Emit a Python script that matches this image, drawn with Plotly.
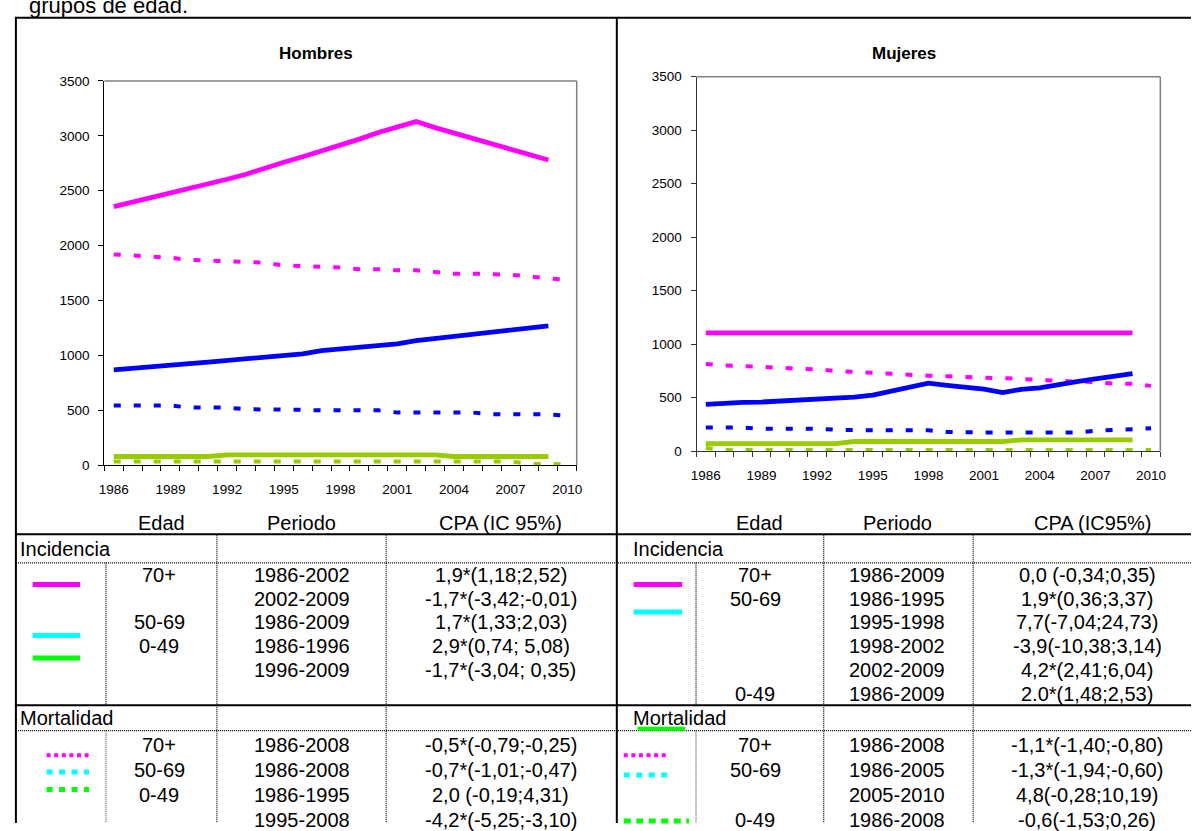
import plotly.graph_objects as go

W, H = 1197, 831

# ---------------- data ----------------
years_inc = [1986, 1987, 1988, 1989, 1990, 1991, 1992, 1993, 1994, 1995, 1996, 1997,
             1998, 1999, 2000, 2001, 2002, 2003, 2004, 2005, 2006, 2007, 2008, 2009]
years_mort = [1986, 1987, 1988, 1989, 1990, 1991, 1992, 1993, 1994, 1995, 1996, 1997,
              1998, 1999, 2000, 2001, 2002, 2003, 2004, 2005, 2006, 2007, 2008, 2009, 2010]
x_ticks = [1986, 1989, 1992, 1995, 1998, 2001, 2004, 2007, 2010]

# Hombres
h_inc_70 = [2355, 2395, 2435, 2480, 2520, 2560, 2605, 2650, 2710, 2760, 2810, 2860,
            2910, 2970, 3030, 3075, 3130, 3075, 3025, 2970, 2925, 2880, 2830, 2780]
h_mort_70 = [1920, 1910, 1895, 1890, 1870, 1865, 1860, 1850, 1845, 1820, 1815, 1810,
             1800, 1785, 1785, 1775, 1775, 1760, 1745, 1745, 1740, 1735, 1720, 1700, 1690]
h_inc_50 = [868, 880, 895, 910, 925, 940, 955, 970, 985, 1000, 1015, 1045,
            1060, 1075, 1090, 1105, 1135, 1155, 1170, 1185, 1215, 1230, 1255, 1270]
h_mort_50 = [545, 545, 545, 545, 525, 525, 525, 510, 510, 510, 505, 500,
             500, 500, 500, 480, 480, 480, 480, 480, 465, 465, 465, 465, 450]
h_inc_0 = [80, 80, 80, 80, 80, 80, 95, 95, 95, 95, 95, 95,
           95, 95, 95, 95, 95, 95, 80, 80, 80, 80, 80, 80]
h_mort_0 = [35, 35, 35, 35, 35, 35, 35, 35, 35, 35, 35, 35,
            35, 35, 35, 35, 35, 35, 35, 35, 35, 35, 12, 10, 10]

# Mujeres
m_inc_70 = [1105, 1105, 1105, 1105, 1105, 1105, 1105, 1105, 1105, 1105, 1105, 1105,
            1105, 1105, 1105, 1105, 1105, 1105, 1105, 1105, 1105, 1105, 1105, 1105]
m_mort_70 = [815, 800, 795, 790, 780, 770, 765, 750, 740, 735, 725, 715,
             705, 700, 695, 690, 680, 675, 665, 655, 650, 645, 630, 630, 610]
m_inc_50 = [438, 441, 455, 459, 468, 474, 489, 500, 505, 523, 559, 600,
            635, 615, 595, 580, 547, 578, 592, 625, 650, 675, 700, 724]
m_mort_50 = [220, 220, 220, 210, 210, 210, 210, 200, 195, 195, 195, 195,
             195, 180, 175, 175, 175, 175, 175, 175, 175, 190, 195, 205, 215]
m_inc_0 = [70, 70, 70, 70, 70, 70, 70, 70, 90, 90, 90, 90,
           90, 90, 90, 90, 90, 105, 105, 105, 105, 105, 105, 105]
m_mort_0 = [30, 10, 10, 10, 10, 10, 10, 10, 10, 10, 10, 10,
            10, 10, 10, 10, 10, 10, 10, 10, 10, 10, 10, 10, 10]

# table text
hdr_left = ["Edad", "Periodo", "CPA (IC 95%)"]
hdr_right = ["Edad", "Periodo", "CPA (IC95%)"]
left_inc_rows = [("70+", "1986-2002", "1,9*(1,18;2,52)"),
                 ("", "2002-2009", "-1,7*(-3,42;-0,01)"),
                 ("50-69", "1986-2009", "1,7*(1,33;2,03)"),
                 ("0-49", "1986-1996", "2,9*(0,74; 5,08)"),
                 ("", "1996-2009", "-1,7*(-3,04; 0,35)")]
left_mort_rows = [("70+", "1986-2008", "-0,5*(-0,79;-0,25)"),
                  ("50-69", "1986-2008", "-0,7*(-1,01;-0,47)"),
                  ("0-49", "1986-1995", "2,0 (-0,19;4,31)"),
                  ("", "1995-2008", "-4,2*(-5,25;-3,10)")]
right_inc_rows = [("70+", "1986-2009", "0,0 (-0,34;0,35)"),
                  ("50-69", "1986-1995", "1,9*(0,36;3,37)"),
                  ("", "1995-1998", "7,7(-7,04;24,73)"),
                  ("", "1998-2002", "-3,9(-10,38;3,14)"),
                  ("", "2002-2009", "4,2*(2,41;6,04)"),
                  ("0-49", "1986-2009", "2.0*(1,48;2,53)")]
right_mort_rows = [("70+", "1986-2008", "-1,1*(-1,40;-0,80)"),
                   ("50-69", "1986-2005", "-1,3*(-1,94;-0,60)"),
                   ("", "2005-2010", "4,8(-0,28;10,19)"),
                   ("0-49", "1986-2008", "-0,6(-1,53;0,26)")]

MAG, BLUE, GREEN = "#FF00FF", "#0000FF", "#99CC00"
FONT = "Arial, Liberation Sans, sans-serif"
TFS = 20   # table font size


def px(x):
    return x / W


def py(y):
    return 1 - y / H


fig = go.Figure()

series = [
    ("x", "y", years_inc, h_inc_70, MAG, "solid"),
    ("x", "y", years_mort, h_mort_70, MAG, "dot"),
    ("x", "y", years_inc, h_inc_50, BLUE, "solid"),
    ("x", "y", years_mort, h_mort_50, BLUE, "dot"),
    ("x", "y", years_inc, h_inc_0, GREEN, "solid"),
    ("x", "y", years_mort, h_mort_0, GREEN, "dot"),
    ("x2", "y2", years_inc, m_inc_70, MAG, "solid"),
    ("x2", "y2", years_mort, m_mort_70, MAG, "dot"),
    ("x2", "y2", years_inc, m_inc_50, BLUE, "solid"),
    ("x2", "y2", years_mort, m_mort_50, BLUE, "dot"),
    ("x2", "y2", years_inc, m_inc_0, GREEN, "solid"),
    ("x2", "y2", years_mort, m_mort_0, GREEN, "dot"),
]
for xa, ya, xs, ys, col, kind in series:
    if kind == "solid":
        line = dict(color=col, width=4.8)
    else:
        line = dict(color=col, width=4, dash="7px,13px")
    fig.add_trace(go.Scatter(x=xs, y=ys, mode="lines", line=line,
                             xaxis=xa, yaxis=ya, hoverinfo="skip"))

minor_vals = [v + 0.5 for v in range(1985, 2011)]


def xaxis_cfg(dom, anchor, lc):
    return dict(domain=dom, anchor=anchor, range=[1985.5, 2010.5],
                tickvals=x_ticks, ticktext=[str(v) for v in x_ticks],
                ticks="", showgrid=False, zeroline=False,
                showline=True, linecolor=lc, linewidth=1,
                tickfont=dict(family=FONT, size=13.5, color="black"),
                ticklabelstandoff=12,
                minor=dict(tickvals=minor_vals, ticks="outside", ticklen=5,
                           tickcolor=lc, tickwidth=1, showgrid=False))


def yaxis_cfg(dom, anchor, lc):
    return dict(domain=dom, anchor=anchor, range=[0, 3500], dtick=500,
                tick0=0, ticks="outside", ticklen=5, tickcolor=lc,
                showgrid=False, zeroline=False, showline=True,
                linecolor=lc, linewidth=1,
                tickfont=dict(family=FONT, size=13.5, color="black"),
                ticklabelstandoff=6)


L_dom_x = [px(99.3), px(576.5)]
L_dom_y = [py(466.7), py(75.3)]
R_dom_x = [px(697.5), px(1166)]
R_dom_y = [py(452.3), py(71)]

shapes = []
# plot frame (top & right in grey)
for xr, yr in (("x domain", "y domain"), ("x2 domain", "y2 domain")):
    shapes.append(dict(type="line", xref=xr, yref=yr, x0=0, x1=1, y0=1, y1=1,
                       line=dict(color="#808080", width=1.5)))
    shapes.append(dict(type="line", xref=xr, yref=yr, x0=1, x1=1, y0=0, y1=1,
                       line=dict(color="#808080", width=1.5)))


def hline(y, x0, x1, width=2, dash="solid", color="black"):
    shapes.append(dict(type="line", xref="paper", yref="paper",
                       x0=px(x0), x1=px(x1), y0=py(y), y1=py(y),
                       line=dict(color=color, width=width, dash=dash)))


def vline(x, y0, y1, width=2, dash="solid", color="black"):
    shapes.append(dict(type="line", xref="paper", yref="paper",
                       x0=px(x), x1=px(x), y0=py(y0), y1=py(y1),
                       line=dict(color=color, width=width, dash=dash)))


DOT = "1px,1px"
# outer table frame
hline(11, 9, 1197)
vline(10, 11, 831)
vline(617, 11, 831)
hline(537, 9, 1197)
hline(711, 9, 1197)
hline(566, 10, 1197, width=1.2, dash=DOT)
hline(737, 10, 1197, width=1.2, dash=DOT)
# dotted column separators
for xv in (101, 697):
    vline(xv, 566, 711, width=1.2, dash=DOT)
    vline(xv, 737, 831, width=1.2, dash=DOT, color="#555555")
for xv in (213, 384, 826, 977):
    vline(xv, 538, 831, width=1.2, dash=DOT)

# legend swatches in table
hline(588, 27, 75, width=5, color="#FF00FF")
hline(640, 27, 75, width=5, color="#00FFFF")
hline(663, 27, 75, width=5, color="#00FF00")
hline(588, 634, 683, width=5, color="#FF00FF")
hline(616, 634, 683, width=5, color="#00FFFF")
hline(735, 638, 686, width=4, color="#00FF00")
hline(762, 41, 87, width=4, color="#FF00FF", dash="4px,3.6px")
hline(779, 41, 84, width=5, color="#00FFFF", dash="6px,6.5px")
hline(797, 41, 84, width=5, color="#00FF00", dash="6px,6.5px")
hline(762, 624, 669, width=4, color="#FF00FF", dash="4px,3.6px")
hline(782, 624, 668, width=5, color="#00FFFF", dash="6px,6.5px")
hline(829, 624, 690, width=5, color="#00FF00", dash="7px,5.5px")

annotations = []


def text(x, y, s, size=TFS, xanchor="center", bold=False, yanchor="middle"):
    annotations.append(dict(xref="paper", yref="paper", x=px(x), y=py(y),
                            text=("<b>%s</b>" % s) if bold else s,
                            showarrow=False, xanchor=xanchor, yanchor=yanchor,
                            font=dict(family=FONT, size=size, color="black")))


text(21, -2, "grupos de edad.", size=22, xanchor="left")
text(313, 47, "Hombres", size=17, bold=True)
text(907, 47, "Mujeres", size=17, bold=True)

# headers
for s, xc in zip(hdr_left, (157, 298.5, 500)):
    text(xc, 525, s)
for s, xc in zip(hdr_right, (761, 901, 1097)):
    text(xc, 525, s)
text(12, 552, "Incidencia", xanchor="left")
text(631, 552, "Incidencia", xanchor="left")
text(12, 724, "Mortalidad", xanchor="left")
text(631, 724, "Mortalidad", xanchor="left")

for rows, y0, step, cols in ((left_inc_rows, 578, 24.4, (155, 298.5, 500)),
                             (left_mort_rows, 752, 25.2, (155, 298.5, 500)),
                             (right_inc_rows, 578, 24.4, (757, 900, 1092)),
                             (right_mort_rows, 752, 25.2, (757, 900, 1092))):
    for i, row in enumerate(rows):
        yy = y0 + i * step
        for s, xc in zip(row, cols):
            if s:
                text(xc, yy, s)

fig.update_layout(
    width=W, height=H, autosize=False,
    margin=dict(l=0, r=0, t=0, b=0),
    paper_bgcolor="white", plot_bgcolor="white",
    showlegend=False, hovermode=False,
    xaxis=xaxis_cfg(L_dom_x, "y", "black"), yaxis=yaxis_cfg(L_dom_y, "x", "black"),
    xaxis2=xaxis_cfg(R_dom_x, "y2", "#333333"), yaxis2=yaxis_cfg(R_dom_y, "x2", "#333333"),
    shapes=shapes, annotations=annotations,
)

fig.write_html("out.html",
               config={"displayModeBar": False, "staticPlot": True},
               post_script="document.body.style.margin='0px';document.body.style.padding='0px';")
